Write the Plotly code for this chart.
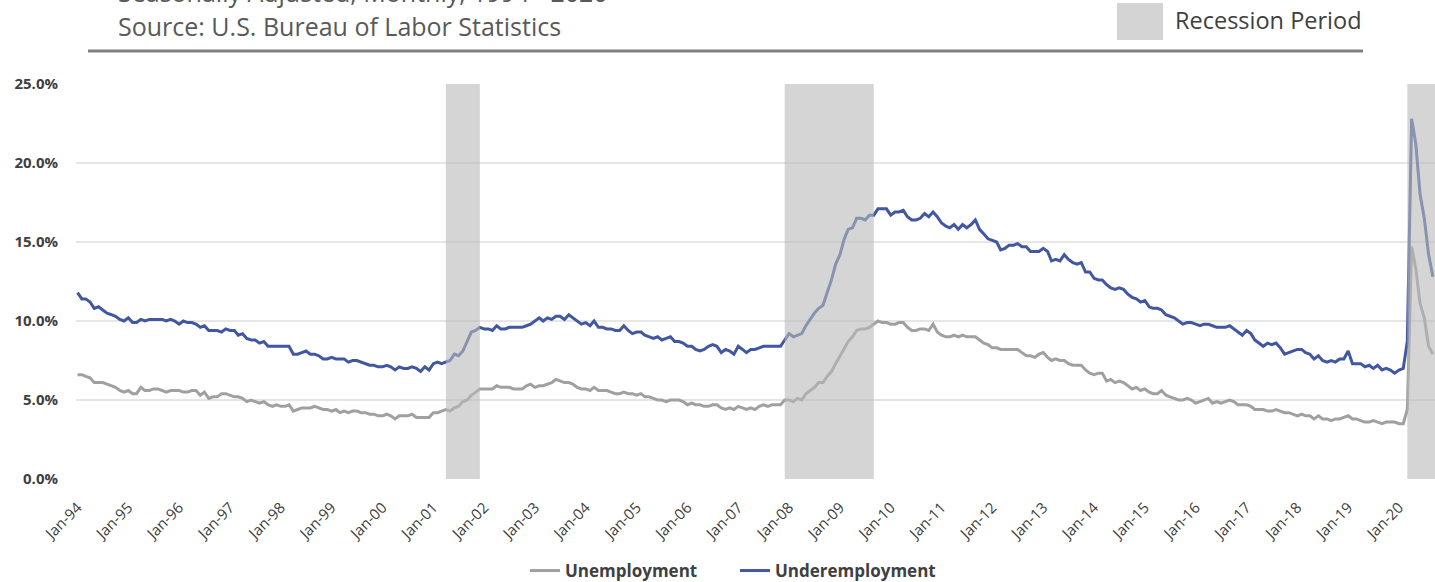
import pandas as pd
import plotly.graph_objects as go

# Monthly rates (%), seasonally adjusted, Jan 1994 - Sep 2020
unemployment = [
    6.6, 6.6, 6.5, 6.4, 6.1, 6.1, 6.1, 6.0, 5.9, 5.8, 5.6, 5.5,   # 1994
    5.6, 5.4, 5.4, 5.8, 5.6, 5.6, 5.7, 5.7, 5.6, 5.5, 5.6, 5.6,   # 1995
    5.6, 5.5, 5.5, 5.6, 5.6, 5.3, 5.5, 5.1, 5.2, 5.2, 5.4, 5.4,   # 1996
    5.3, 5.2, 5.2, 5.1, 4.9, 5.0, 4.9, 4.8, 4.9, 4.7, 4.6, 4.7,   # 1997
    4.6, 4.6, 4.7, 4.3, 4.4, 4.5, 4.5, 4.5, 4.6, 4.5, 4.4, 4.4,   # 1998
    4.3, 4.4, 4.2, 4.3, 4.2, 4.3, 4.3, 4.2, 4.2, 4.1, 4.1, 4.0,   # 1999
    4.0, 4.1, 4.0, 3.8, 4.0, 4.0, 4.0, 4.1, 3.9, 3.9, 3.9, 3.9,   # 2000
    4.2, 4.2, 4.3, 4.4, 4.3, 4.5, 4.6, 4.9, 5.0, 5.3, 5.5, 5.7,   # 2001
    5.7, 5.7, 5.7, 5.9, 5.8, 5.8, 5.8, 5.7, 5.7, 5.7, 5.9, 6.0,   # 2002
    5.8, 5.9, 5.9, 6.0, 6.1, 6.3, 6.2, 6.1, 6.1, 6.0, 5.8, 5.7,   # 2003
    5.7, 5.6, 5.8, 5.6, 5.6, 5.6, 5.5, 5.4, 5.4, 5.5, 5.4, 5.4,   # 2004
    5.3, 5.4, 5.2, 5.2, 5.1, 5.0, 5.0, 4.9, 5.0, 5.0, 5.0, 4.9,   # 2005
    4.7, 4.8, 4.7, 4.7, 4.6, 4.6, 4.7, 4.7, 4.5, 4.4, 4.5, 4.4,   # 2006
    4.6, 4.5, 4.4, 4.5, 4.4, 4.6, 4.7, 4.6, 4.7, 4.7, 4.7, 5.0,   # 2007
    5.0, 4.9, 5.1, 5.0, 5.4, 5.6, 5.8, 6.1, 6.1, 6.5, 6.8, 7.3,   # 2008
    7.8, 8.3, 8.7, 9.0, 9.4, 9.5, 9.5, 9.6, 9.8, 10.0, 9.9, 9.9,  # 2009
    9.8, 9.8, 9.9, 9.9, 9.6, 9.4, 9.4, 9.5, 9.5, 9.4, 9.8, 9.3,   # 2010
    9.1, 9.0, 9.0, 9.1, 9.0, 9.1, 9.0, 9.0, 9.0, 8.8, 8.6, 8.5,   # 2011
    8.3, 8.3, 8.2, 8.2, 8.2, 8.2, 8.2, 8.0, 7.8, 7.8, 7.7, 7.9,   # 2012
    8.0, 7.7, 7.5, 7.6, 7.5, 7.5, 7.3, 7.2, 7.2, 7.2, 6.9, 6.7,   # 2013
    6.6, 6.7, 6.7, 6.2, 6.3, 6.1, 6.2, 6.1, 5.9, 5.7, 5.8, 5.6,   # 2014
    5.7, 5.5, 5.4, 5.4, 5.6, 5.3, 5.2, 5.1, 5.0, 5.0, 5.1, 5.0,   # 2015
    4.8, 4.9, 5.0, 5.1, 4.8, 4.9, 4.8, 4.9, 5.0, 4.9, 4.7, 4.7,   # 2016
    4.7, 4.6, 4.4, 4.4, 4.4, 4.3, 4.3, 4.4, 4.3, 4.2, 4.2, 4.1,   # 2017
    4.0, 4.1, 4.0, 4.0, 3.8, 4.0, 3.8, 3.8, 3.7, 3.8, 3.8, 3.9,   # 2018
    4.0, 3.8, 3.8, 3.7, 3.6, 3.6, 3.7, 3.6, 3.5, 3.6, 3.6, 3.6,   # 2019
    3.5, 3.5, 4.4, 14.7, 13.3, 11.1, 10.2, 8.4, 7.9,              # 2020
]

underemployment = [
    11.8, 11.4, 11.4, 11.2, 10.8, 10.9, 10.7, 10.5, 10.4, 10.3, 10.1, 10.0,  # 1994
    10.2, 9.9, 9.9, 10.1, 10.0, 10.1, 10.1, 10.1, 10.1, 10.0, 10.1, 10.0,   # 1995
    9.8, 10.0, 9.9, 9.9, 9.8, 9.6, 9.7, 9.4, 9.4, 9.4, 9.3, 9.5,            # 1996
    9.4, 9.4, 9.1, 9.2, 8.9, 8.8, 8.8, 8.6, 8.7, 8.4, 8.4, 8.4,             # 1997
    8.4, 8.4, 8.4, 7.9, 7.9, 8.0, 8.1, 7.9, 7.9, 7.8, 7.6, 7.6,             # 1998
    7.7, 7.6, 7.6, 7.6, 7.4, 7.5, 7.5, 7.4, 7.3, 7.2, 7.2, 7.1,             # 1999
    7.1, 7.2, 7.1, 6.9, 7.1, 7.0, 7.0, 7.1, 7.0, 6.8, 7.1, 6.9,             # 2000
    7.3, 7.4, 7.3, 7.4, 7.5, 7.9, 7.8, 8.1, 8.7, 9.3, 9.4, 9.6,             # 2001
    9.5, 9.5, 9.4, 9.7, 9.5, 9.5, 9.6, 9.6, 9.6, 9.6, 9.7, 9.8,             # 2002
    10.0, 10.2, 10.0, 10.2, 10.1, 10.3, 10.3, 10.1, 10.4, 10.2, 10.0, 9.8,  # 2003
    9.9, 9.7, 10.0, 9.6, 9.6, 9.5, 9.5, 9.4, 9.4, 9.7, 9.4, 9.2,            # 2004
    9.3, 9.3, 9.1, 9.0, 8.9, 9.0, 8.8, 8.9, 9.0, 8.7, 8.7, 8.6,             # 2005
    8.4, 8.4, 8.2, 8.1, 8.2, 8.4, 8.5, 8.4, 8.0, 8.2, 8.1, 7.9,             # 2006
    8.4, 8.2, 8.0, 8.2, 8.2, 8.3, 8.4, 8.4, 8.4, 8.4, 8.4, 8.8,             # 2007
    9.2, 9.0, 9.1, 9.2, 9.7, 10.1, 10.5, 10.8, 11.0, 11.8, 12.6, 13.6,      # 2008
    14.2, 15.2, 15.8, 15.9, 16.5, 16.5, 16.4, 16.7, 16.7, 17.1, 17.1, 17.1, # 2009
    16.7, 16.9, 16.9, 17.0, 16.6, 16.4, 16.4, 16.5, 16.8, 16.6, 16.9, 16.6, # 2010
    16.2, 16.0, 15.9, 16.1, 15.8, 16.1, 15.9, 16.1, 16.4, 15.8, 15.5, 15.2, # 2011
    15.1, 15.0, 14.5, 14.6, 14.8, 14.8, 14.9, 14.7, 14.7, 14.4, 14.4, 14.4, # 2012
    14.6, 14.4, 13.8, 13.9, 13.8, 14.2, 13.9, 13.7, 13.6, 13.7, 13.1, 13.1, # 2013
    12.7, 12.6, 12.6, 12.3, 12.1, 12.0, 12.1, 12.0, 11.7, 11.5, 11.4, 11.2, # 2014
    11.3, 10.9, 10.8, 10.8, 10.7, 10.4, 10.3, 10.2, 10.0, 9.8, 9.9, 9.9,    # 2015
    9.8, 9.7, 9.8, 9.8, 9.7, 9.6, 9.6, 9.6, 9.7, 9.5, 9.3, 9.1,             # 2016
    9.4, 9.2, 8.8, 8.6, 8.4, 8.6, 8.5, 8.6, 8.3, 7.9, 8.0, 8.1,             # 2017
    8.2, 8.2, 8.0, 7.9, 7.6, 7.8, 7.5, 7.4, 7.5, 7.4, 7.6, 7.6,             # 2018
    8.1, 7.3, 7.3, 7.3, 7.1, 7.2, 7.0, 7.2, 6.9, 7.0, 6.9, 6.7,             # 2019
    6.9, 7.0, 8.7, 22.8, 21.2, 18.0, 16.5, 14.2, 12.8,                      # 2020
]

# Recession bands: first shaded month, and the month boundary where shading stops
recession_start = ["2001-04-01", "2007-12-01", "2020-03-01"]
recession_end = ["2001-12-01", "2009-09-01", "2020-09-16"]

y_ticks = [0, 5, 10, 15, 20, 25]
y_tick_labels = ["0.0%", "5.0%", "10.0%", "15.0%", "20.0%", "25.0%"]

months = pd.date_range("1994-01-01", periods=len(unemployment), freq="MS")

W, H = 1435, 582
L, R, T, B = 76, 0, 84, 103
plot_w = W - L - R
plot_h = H - T - B


def px_x(px):
    return (px - L) / plot_w


def px_y(py):
    return (H - B - py) / plot_h


TEXT = "#404040"
FONT = "Open Sans"

fig = go.Figure()
fig.add_trace(go.Scatter(
    x=months, y=unemployment, name="Unemployment", mode="lines",
    line=dict(color="#a0a0a0", width=3),
))
fig.add_trace(go.Scatter(
    x=months, y=underemployment, name="Underemployment", mode="lines",
    line=dict(color="#41579f", width=3),
))

shapes = []
for s, e in zip(recession_start, recession_end):
    shapes.append(dict(
        type="rect", xref="x", yref="y", x0=s, x1=e, y0=0, y1=25,
        fillcolor="rgb(185,185,185)", opacity=0.6, line=dict(width=0),
        layer="above",
    ))

# header rule
shapes.append(dict(
    type="line", xref="paper", yref="paper",
    x0=px_x(88), x1=px_x(1363), y0=px_y(51), y1=px_y(51),
    line=dict(color="#808080", width=3),
))
# recession key swatch
shapes.append(dict(
    type="rect", xref="paper", yref="paper",
    x0=px_x(1117), x1=px_x(1163), y0=px_y(40), y1=px_y(3),
    fillcolor="#d4d4d4", line=dict(width=0),
))

annotations = [
    dict(text="Seasonally Adjusted, Monthly, 1994 - 2020",
         xref="paper", yref="paper", x=px_x(116), y=px_y(-8),
         xanchor="left", yanchor="middle", showarrow=False,
         font=dict(family=FONT, size=25, color="#595959")),
    dict(text="Source: U.S. Bureau of Labor Statistics",
         xref="paper", yref="paper", x=px_x(116), y=px_y(26),
         xanchor="left", yanchor="middle", showarrow=False,
         font=dict(family=FONT, size=25, color="#595959")),
    dict(text="Recession Period",
         xref="paper", yref="paper", x=px_x(1173), y=px_y(20),
         xanchor="left", yanchor="middle", showarrow=False,
         font=dict(family=FONT, size=23.5, color=TEXT)),
]

fig.update_layout(
    width=W, height=H,
    margin=dict(l=L, r=R, t=T, b=B, autoexpand=False),
    paper_bgcolor="white", plot_bgcolor="white",
    font=dict(family=FONT, color=TEXT),
    shapes=shapes,
    annotations=annotations,
    showlegend=True,
    legend=dict(
        orientation="h", x=px_x(735), y=px_y(571),
        xanchor="center", yanchor="middle",
        font=dict(family=FONT, size=17, color=TEXT, weight="bold"),
        itemwidth=30, tracegroupgap=0,
        entrywidth=165, entrywidthmode="pixels",
    ),
    xaxis=dict(
        type="date",
        range=["1993-12-21", "2020-09-16"],
        tick0="1994-01-01", dtick="M12", tickformat="%b-%y",
        tickangle=-45, showgrid=False, zeroline=False, showline=False,
        ticks="", ticklabelstandoff=16, automargin=False,
        tickfont=dict(family=FONT, size=15, color=TEXT),
    ),
    yaxis=dict(
        range=[0, 25], tickvals=y_ticks, ticktext=y_tick_labels,
        showgrid=True, gridcolor="#e6e6e6", gridwidth=2,
        zeroline=False, showline=False, ticks="",
        ticklabelstandoff=17, automargin=False,
        tickfont=dict(family=FONT, size=15, color=TEXT, weight="bold"),
    ),
)

fig.write_html("out.html")
